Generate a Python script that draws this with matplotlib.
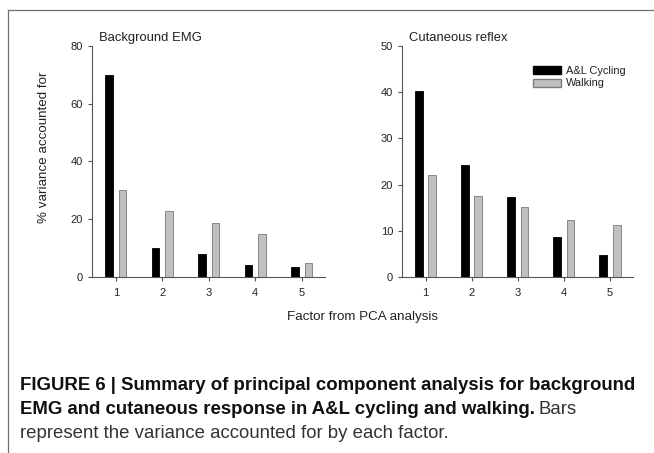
import numpy as np
import matplotlib
matplotlib.use('Agg')
import matplotlib.pyplot as plt
from matplotlib.patches import Patch

plt.rcParams['font.family'] = ['Liberation Sans', 'DejaVu Sans']

factors = [1, 2, 3, 4, 5]
emg_cycling = [70, 10, 7.8, 4, 3.3]
emg_walking = [30, 22.8, 18.6, 15, 5]
cut_cycling = [40.2, 24.3, 17.3, 8.6, 4.8]
cut_walking = [22, 17.5, 15.2, 12.3, 11.3]

black = '#000000'
grey = '#c0c0c0'
grey_edge = '#7a7a7a'
axis_col = '#555555'
text_col = '#222222'

fig = plt.figure(figsize=(6.54, 4.53), dpi=100)

ax1 = fig.add_axes([0.1407, 0.3885, 0.3563, 0.510])
ax2 = fig.add_axes([0.6147, 0.3885, 0.3532, 0.510])

x = np.array(factors)
w = 0.17
off = 0.145


def style(ax, top, step, title):
    for s in ['top', 'right']:
        ax.spines[s].set_visible(False)
    for s in ['left', 'bottom']:
        ax.spines[s].set_color(axis_col)
        ax.spines[s].set_linewidth(0.8)
    ax.set_xlim(0.49, 5.5)
    ax.set_ylim(0, top)
    ax.set_yticks(np.arange(0, top + 1, step))
    ax.set_xticks(factors)
    ax.tick_params(axis='both', direction='out', length=3, width=0.8,
                   colors=axis_col, labelcolor=text_col, labelsize=8)
    ax.tick_params(axis='x', pad=5)
    ax.text(0.03, 1.035, title, transform=ax.transAxes, fontsize=9.4,
            color=text_col, va='center', ha='left')


ax1.bar(x - off, emg_cycling, width=w, color=black, edgecolor=black, linewidth=0.6)
ax1.bar(x + off, emg_walking, width=w, color=grey, edgecolor=grey_edge, linewidth=0.6)
style(ax1, 80, 20, 'Background EMG')
ax1.set_ylabel('% variance accounted for', fontsize=9.6, color=text_col)
ax1.yaxis.set_label_coords(-0.18, 0.56)

ax2.bar(x - off, cut_cycling, width=w, color=black, edgecolor=black, linewidth=0.6)
ax2.bar(x + off, cut_walking, width=w, color=grey, edgecolor=grey_edge, linewidth=0.6)
style(ax2, 50, 10, 'Cutaneous reflex')

handles = [Patch(facecolor=black, edgecolor=black, label='A&L Cycling'),
           Patch(facecolor=grey, edgecolor=grey_edge, label='Walking')]
ax2.legend(handles=handles, loc='upper right', bbox_to_anchor=(1.01, 0.955),
           frameon=False, fontsize=7.9, handlelength=2.5, handleheight=0.75,
           handletextpad=0.45, labelspacing=0.2, labelcolor=text_col)

fig.text(362 / 654, 1 - 317 / 453, 'Factor from PCA analysis', fontsize=9.6,
         color=text_col, ha='center', va='center')

# frame lines
fig.add_artist(plt.Line2D([8 / 654, 1], [1 - 10 / 453, 1 - 10 / 453],
                          transform=fig.transFigure, color='#707070', lw=0.9))
fig.add_artist(plt.Line2D([8 / 654, 8 / 654], [0, 1 - 10 / 453],
                          transform=fig.transFigure, color='#707070', lw=0.9))

# caption
cap_font = ['Liberation Sans', 'DejaVu Sans']
cap_size = 13.4
cx = 20 / 654
fig.text(cx, 1 - 386 / 453,
         'FIGURE 6 | Summary of principal component analysis for background',
         fontsize=cap_size, fontweight='bold', family=cap_font, va='center', color='#111111')
t2 = fig.text(cx, 1 - 410 / 453,
              'EMG and cutaneous response in A&L cycling and walking.',
              fontsize=cap_size, fontweight='bold', family=cap_font, va='center', color='#111111')
fig.text(cx, 1 - 434 / 453, 'represent the variance accounted for by each factor.',
         fontsize=cap_size, family=cap_font, va='center', color='#333333')

fig.canvas.draw()
bb = t2.get_window_extent().transformed(fig.transFigure.inverted())
fig.text(bb.x1 + 0.006, 1 - 410 / 453, 'Bars', fontsize=cap_size, family=cap_font,
         va='center', color='#333333')

fig.savefig('out.png', dpi=100)
